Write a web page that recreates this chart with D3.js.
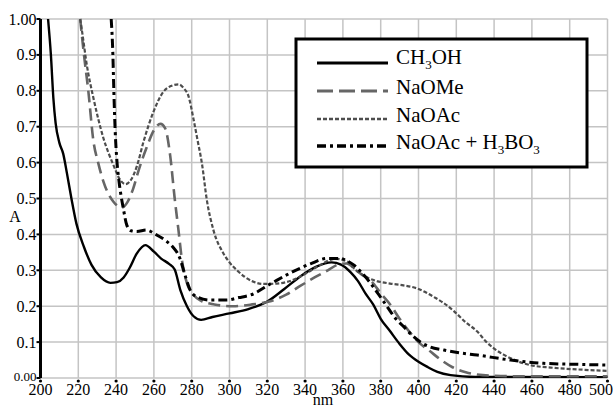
<!DOCTYPE html>
<html>
<head>
<meta charset="utf-8">
<script src="https://cdn.jsdelivr.net/npm/d3@7"></script>
<style>
  body { margin: 0; background: #fff; }
  text { font-family: "Liberation Serif", "DejaVu Serif", serif; fill: #000; }
</style>
</head>
<body>
<svg id="chart" width="613" height="407"></svg>
<script>
// wavelength (nm) and absorbance values
var ch3oh = [[204,1.0],[205.5,0.9],[206.8,0.78],[208,0.71],[210,0.655],[212,0.625],[214,0.57],[216.5,0.496],[219,0.43],[223,0.365],[227,0.315],[232,0.28],[237,0.265],[240.5,0.267],[244,0.28],[247,0.305],[251,0.347],[255.5,0.37],[260,0.352],[264,0.332],[268,0.318],[271,0.302],[274,0.245],[277.5,0.2],[281,0.172],[285,0.162],[291,0.17],[300,0.18],[310,0.192],[320,0.213],[329,0.248],[338,0.285],[346,0.31],[354,0.322],[359,0.316],[364,0.295],[368,0.27],[372,0.235],[376,0.205],[380,0.165],[385,0.13],[390,0.095],[395,0.065],[400,0.045],[405,0.03],[410,0.017],[417,0.008],[430,0.003],[500,0.002]]

var naome = [[221,1.0],[223,0.9],[225.3,0.8],[228,0.66],[230.5,0.6],[233.3,0.547],[238.6,0.491],[243,0.475],[246,0.49],[249,0.527],[252,0.58],[256,0.64],[260,0.69],[263.5,0.708],[266,0.695],[268.6,0.62],[271,0.5],[273,0.412],[274.8,0.33],[277.5,0.264],[281,0.231],[285,0.215],[292,0.205],[302,0.2],[312,0.205],[321,0.213],[330,0.232],[337,0.255],[345,0.28],[352,0.3],[358,0.317],[362,0.319],[366,0.305],[370,0.288],[375,0.27],[380,0.236],[385,0.205],[390,0.165],[395,0.13],[400,0.1],[406,0.075],[412,0.05],[418,0.03],[425,0.016],[434,0.008],[450,0.005],[500,0.005]]

var naoac = [[221,1.0],[222,0.965],[224.5,0.872],[228,0.78],[233.3,0.668],[238.6,0.593],[242,0.553],[245,0.54],[248,0.553],[251,0.59],[254.5,0.658],[259.8,0.742],[265,0.797],[270,0.815],[273,0.818],[276,0.806],[278.3,0.785],[281,0.72],[283,0.665],[285.4,0.598],[288,0.496],[291.5,0.412],[296.8,0.347],[300,0.322],[304,0.3],[308,0.282],[312.7,0.268],[318,0.262],[325,0.263],[332,0.27],[340,0.29],[348,0.315],[356,0.332],[362,0.325],[367,0.3],[372,0.282],[378,0.27],[385,0.263],[392,0.258],[399,0.25],[404,0.238],[408,0.226],[413,0.21],[419,0.185],[425,0.155],[431,0.13],[436,0.1],[440,0.082],[445,0.065],[450,0.052],[459,0.036],[470,0.029],[487,0.023],[500,0.02]]

var naoacBoric = [[237.4,1.0],[238.3,0.9],[238.8,0.8],[239.5,0.69],[240.5,0.6],[241.5,0.55],[243.9,0.47],[245.7,0.425],[248,0.41],[251,0.408],[256,0.412],[261.6,0.398],[266.9,0.38],[270,0.365],[272.2,0.35],[274,0.33],[275.7,0.3],[279.2,0.245],[282.8,0.226],[289.8,0.217],[298.6,0.217],[305,0.224],[311,0.231],[321.6,0.262],[332,0.292],[342.8,0.318],[351.6,0.333],[358.7,0.333],[362,0.327],[365.7,0.315],[370,0.293],[374.6,0.264],[379,0.232],[383.4,0.199],[388,0.165],[392.2,0.143],[396,0.122],[401,0.1],[406,0.087],[413.4,0.078],[422,0.07],[431,0.064],[448.7,0.05],[466,0.041],[485,0.038],[500,0.036]]

var xTicks = d3.range(200, 501, 20)
var yTicks = [0, 0.1, 0.2, 0.3, 0.4, 0.5, 0.6, 0.7, 0.8, 0.9, 1.0]
var yTickLabels = ['0.00', '0.1', '0.2', '0.3', '0.4', '0.5', '0.6', '0.7', '0.8', '0.9', '1.00']

var series = [
  {name: 'CH3OH', sub: [['CH', 0], ['3', 1], ['OH', 0]], data: ch3oh, stroke: '#000', width: 2.4, dash: null},
  {name: 'NaOMe', sub: [['NaOMe', 0]], data: naome, stroke: '#666', width: 2.6, dash: '12,6'},
  {name: 'NaOAc', sub: [['NaOAc', 0]], data: naoac, stroke: '#4d4d4d', width: 2.2, dash: '4,2'},
  {name: 'NaOAc + H3BO3', sub: [['NaOAc + H', 0], ['3', 1], ['BO', 0], ['3', 1]], data: naoacBoric, stroke: '#000', width: 3, dash: '9,4,3,4'},
]

function drawChart(){
  var svg = d3.select('#chart')
  var mLeft = 40.5, mRight = 607.5, mTop = 19, mBottom = 378

  var x = d3.scaleLinear().domain([200, 500]).range([mLeft, mRight])
  var y = d3.scaleLinear().domain([0, 1]).range([mBottom, mTop])

  // grid
  var grid = svg.append('g')
  grid.selectAll('line.v').data(xTicks).join('line').attr('class', 'v')
    .attr('x1', d => x(d)).attr('x2', d => x(d))
    .attr('y1', mTop).attr('y2', mBottom)
    .attr('stroke', '#c4c4c4').attr('stroke-width', 1.5)
  grid.selectAll('line.h').data(yTicks).join('line').attr('class', 'h')
    .attr('x1', mLeft).attr('x2', mRight)
    .attr('y1', d => y(d)).attr('y2', d => y(d))
    .attr('stroke', '#c4c4c4').attr('stroke-width', 1.5)

  // curves
  svg.append('clipPath').attr('id', 'clip')
    .append('rect').attr('x', mLeft).attr('y', mTop - 1)
    .attr('width', mRight - mLeft + 2).attr('height', mBottom - mTop + 1)

  var line = d3.line()
    .x(d => x(d[0]))
    .y(d => y(d[1]))
    .curve(d3.curveMonotoneX)

  svg.append('g').attr('clip-path', 'url(#clip)')
    .selectAll('path').data(series).join('path')
    .attr('d', d => line(d.data))
    .attr('fill', 'none')
    .attr('stroke', d => d.stroke)
    .attr('stroke-width', d => d.width)
    .attr('stroke-dasharray', d => d.dash)
    .attr('stroke-linejoin', 'round')

  // y axis
  svg.append('line')
    .attr('x1', mLeft).attr('x2', mLeft).attr('y1', mTop).attr('y2', mBottom)
    .attr('stroke', '#000').attr('stroke-width', 3)

  svg.append('g').selectAll('line').data(yTicks).join('line')
    .attr('x1', mLeft - 4).attr('x2', mLeft)
    .attr('y1', d => y(d)).attr('y2', d => y(d))
    .attr('stroke', '#000').attr('stroke-width', 2)

  svg.append('g').selectAll('text').data(yTicks).join('text')
    .attr('x', mLeft - 4)
    .attr('y', (d, i) => y(d) + (i == 0 ? 2.5 : 5.5))
    .attr('text-anchor', 'end')
    .style('font-size', (d, i) => i == 0 ? '13px' : '16px')
    .text((d, i) => yTickLabels[i])

  // x axis ticks
  svg.append('g').selectAll('circle').data(xTicks).join('circle')
    .attr('cx', d => x(d)).attr('cy', mBottom + 3)
    .attr('r', 1.6).attr('fill', '#000')

  svg.append('g').selectAll('text').data(xTicks).join('text')
    .attr('x', d => d == 500 ? 613 : x(d))
    .attr('y', mBottom + 16.5)
    .attr('text-anchor', d => d == 500 ? 'end' : 'middle')
    .style('font-size', '16px')
    .text(d => d)

  svg.append('text').attr('x', 15).attr('y', 222).attr('text-anchor', 'middle')
    .style('font-size', '16px').text('A')
  svg.append('text').attr('x', 323).attr('y', 405).attr('text-anchor', 'middle')
    .style('font-size', '16px').text('nm')

  // legend
  var lg = svg.append('g').attr('transform', 'translate(296,39)')
  lg.append('rect').attr('width', 291).attr('height', 128)
    .attr('fill', '#fff').attr('stroke', '#000').attr('stroke-width', 3)

  var rows = lg.selectAll('g.row').data(series).join('g')
    .attr('transform', (d, i) => 'translate(0,' + [24, 52, 80, 107][i] + ')')

  rows.append('line')
    .attr('x1', 21).attr('x2', 92)
    .attr('stroke', d => d.stroke)
    .attr('stroke-width', d => d.width + 0.4)
    .attr('stroke-dasharray', d => d.dash == '12,6' ? '16,6' : d.dash)

  rows.append('text')
    .attr('x', 100).attr('y', (d, i) => i == 0 ? 1 : 3)
    .style('font-size', '21px')
    .each(function(d){
      var t = d3.select(this)
      var wasSub = 0
      d.sub.forEach(([s, isSub]) => {
        t.append('tspan')
          .style('font-size', isSub ? '13px' : '21px')
          .attr('dy', isSub ? 5 : (wasSub ? -5 : 0))
          .text(s)
        wasSub = isSub
      })
    })
}

drawChart()
</script>
</body>
</html>
